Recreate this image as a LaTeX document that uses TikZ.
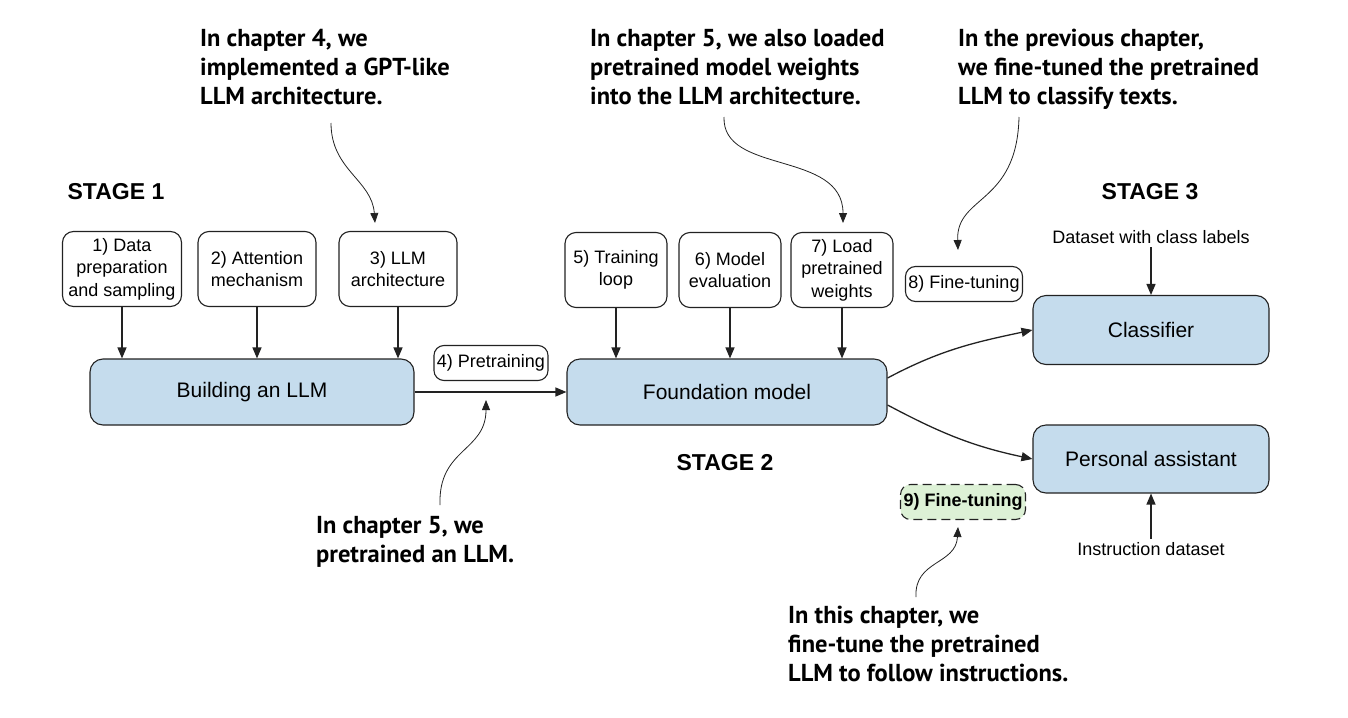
\documentclass[tikz,border=0pt]{standalone}
\usepackage{fontspec}
\setmainfont{Liberation Sans}
\newfontfamily\noteface{PT Sans}
\usetikzlibrary{arrows.meta}

\definecolor{boxblue}{RGB}{197,220,237}
\definecolor{boxgreen}{RGB}{221,241,214}
\definecolor{edgegray}{RGB}{34,34,34}

\tikzset{
  stepbox/.style={draw=edgegray, line width=1.1pt, rounded corners=11pt,
    fill=white, align=center, font=\fontsize{18}{22.5}\selectfont,
    minimum height=75pt, inner sep=1pt},
  tagbox/.style={draw=edgegray, line width=1.1pt, rounded corners=10pt,
    fill=white, font=\fontsize{18}{22}\selectfont, inner sep=3pt,
    minimum height=35pt},
  mainbox/.style={draw=edgegray, line width=1.1pt, rounded corners=13pt,
    fill=boxblue, font=\fontsize{21}{25}\selectfont},
  stagelabel/.style={font=\fontsize{23}{27}\selectfont\bfseries},
  plainlabel/.style={font=\fontsize{18}{22}\selectfont},
  note/.style={font=\noteface\bfseries\fontsize{24.5}{29}\selectfont,
    align=left, anchor=north west, inner sep=0pt},
  flow/.style={line width=1.3pt, draw=edgegray,
    -{Triangle[length=11pt, width=9pt]}},
  pointer/.style={line width=0.8pt, draw=edgegray,
    -{Triangle[length=10pt, width=8pt]}}
}

\begin{document}
\begin{tikzpicture}[x=1pt, y=-1pt]
  \useasboundingbox (0,0) rectangle (1348,717);

  % stage 1
  \node[stagelabel] (stageA) at (116,192) {STAGE 1};
  \node[stepbox, minimum width=119pt] (data) at (122,269)
    {1) Data\\preparation\\and sampling};
  \node[stepbox, minimum width=118pt] (attn) at (257,269)
    {2) Attention\\mechanism};
  \node[stepbox, minimum width=118pt] (arch) at (398,269)
    {3) LLM\\architecture};
  \node[mainbox, minimum width=324pt, minimum height=66pt] (build) at (252,392)
    {Building an LLM};

  % stage 2
  \node[tagbox] (pretrain) at (491,363) {4) Pretraining};
  \node[mainbox, minimum width=320pt, minimum height=66pt] (found) at (727,392)
    {Foundation model};
  \node[stagelabel] (stageB) at (725,463) {STAGE 2};
  \node[stepbox, minimum width=102pt] (loop) at (616,270)
    {5) Training\\loop};
  \node[stepbox, minimum width=102pt] (eval) at (730,270)
    {6) Model\\evaluation};
  \node[stepbox, minimum width=102pt] (load) at (842,270)
    {7) Load\\pretrained\\weights};

  % stage 3
  \node[stagelabel] (stageC) at (1150,192) {STAGE 3};
  \node[plainlabel] (clsdata) at (1151,237) {Dataset with class labels};
  \node[mainbox, minimum width=236pt, minimum height=69pt] (cls) at (1151,330)
    {Classifier};
  \node[mainbox, minimum width=236pt, minimum height=68pt] (assist) at (1151,459)
    {Personal assistant};
  \node[plainlabel] (instdata) at (1151,549) {Instruction dataset};
  \node[tagbox] (ftA) at (964,284) {8) Fine-tuning};
  \node[tagbox, dashed, dash pattern=on 9pt off 5pt, fill=boxgreen,
    font=\fontsize{18}{22}\selectfont\bfseries] (ftB) at (963,502)
    {9) Fine-tuning};

  % flow arrows
  \draw[flow] (data.south) -- (data.south |- build.north);
  \draw[flow] (attn.south) -- (attn.south |- build.north);
  \draw[flow] (arch.south) -- (arch.south |- build.north);
  \draw[flow] (build.east) -- (found.west);
  \draw[flow] (loop.south) -- (loop.south |- found.north);
  \draw[flow] (eval.south) -- (eval.south |- found.north);
  \draw[flow] (load.south) -- (load.south |- found.north);
  \draw[flow] ([yshift=14pt]found.east) to[out=28, in=192] (cls.west);
  \draw[flow] ([yshift=-13pt]found.east) to[out=-28, in=168] (assist.west);
  \draw[flow] (clsdata.south) -- (cls.north);
  \draw[flow] (instdata.north) -- (assist.south);

  % callouts
  \node[note] (noteA) at (200,29)
    {In chapter 4, we\\implemented a GPT-like\\LLM architecture.};
  \node[note] (noteB) at (590,29)
    {In chapter 5, we also loaded\\pretrained model weights\\into the LLM architecture.};
  \node[note] (noteC) at (958,29)
    {In the previous chapter,\\we fine-tuned the pretrained\\LLM to classify texts.};
  \node[note] (noteD) at (316,516)
    {In chapter 5, we\\pretrained an LLM.};
  \node[note] (noteE) at (788,606)
    {In this chapter, we\\fine-tune the pretrained\\LLM to follow instructions.};

  \coordinate (tipA) at (375,223);
  \coordinate (tipB) at (843,223);
  \coordinate (tipC) at (958,250);
  \coordinate (tipD) at (486,400);
  \coordinate (tipE) at (958,527);

  \draw[pointer] (331,123) .. controls (331,170) and (372,180) .. (tipA);
  \draw[pointer] (724,117) .. controls (722,175) and (843,150) .. (tipB);
  \draw[pointer] (1019,117) .. controls (1017,205) and (956,195) .. (tipC);
  \draw[pointer] (440,505) .. controls (438,448) and (486,452) .. (tipD);
  \draw[pointer] (916,597) .. controls (914,560) and (956,565) .. (tipE);
\end{tikzpicture}
\end{document}
